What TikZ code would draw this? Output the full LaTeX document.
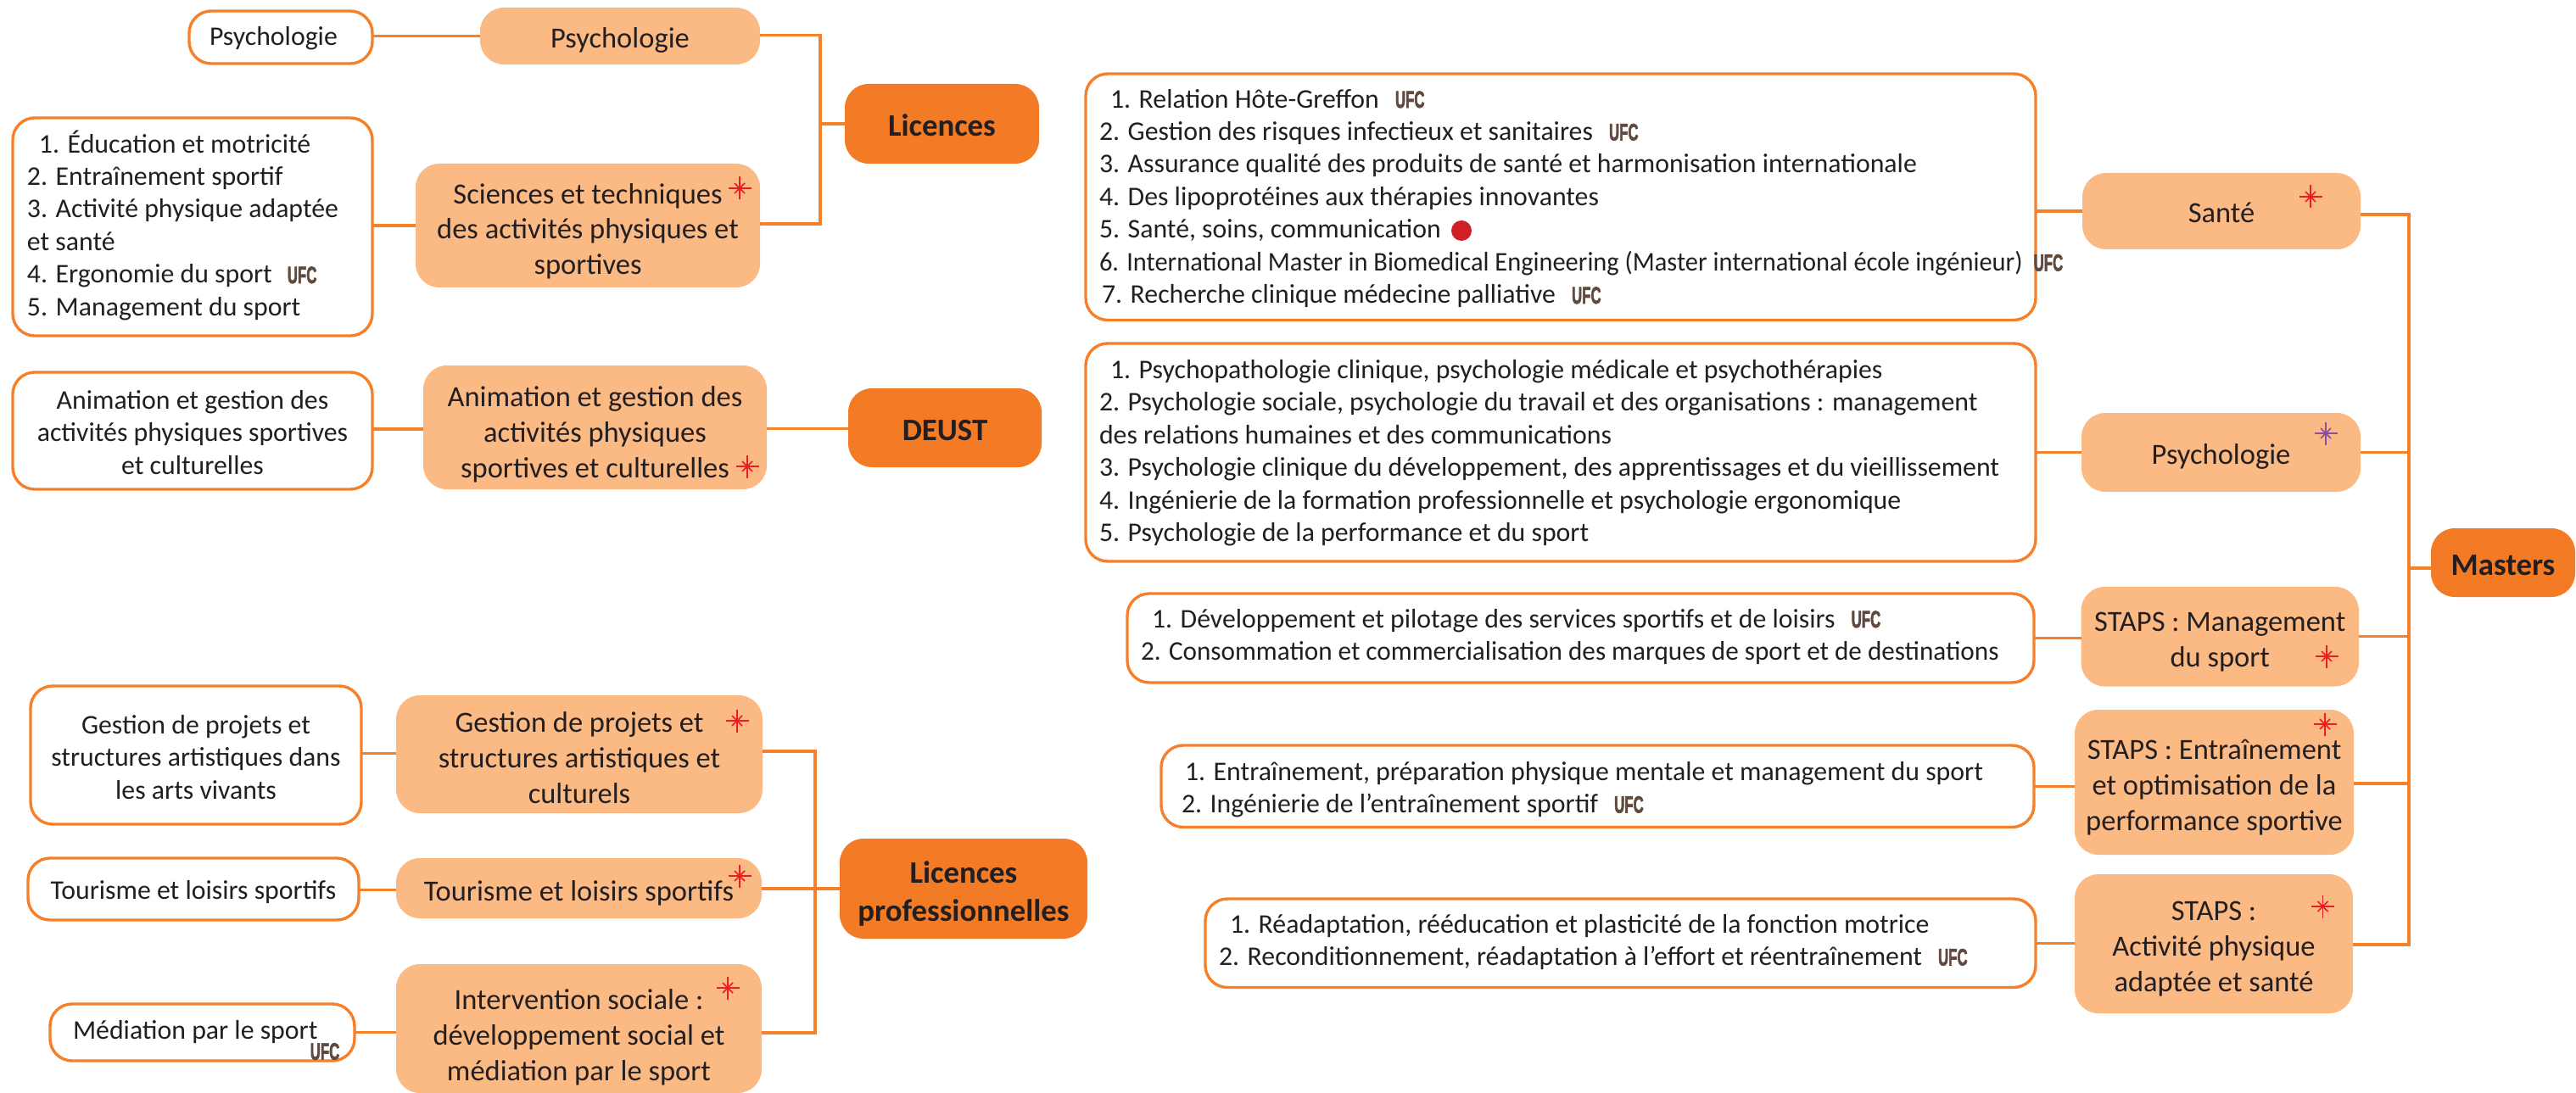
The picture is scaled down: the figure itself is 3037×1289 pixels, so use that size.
\documentclass[tikz,border=0pt]{standalone}
\usepackage{graphicx}
\usepackage{fontspec}
\setmainfont{Carlito}
\newfontfamily\ufcfont{Liberation Sans}[BoldFont={Liberation Sans Bold},BoldFeatures={FakeBold=2.5}]
\definecolor{topor}{HTML}{F47B25}
\definecolor{midor}{HTML}{FBB984}
\definecolor{lineor}{HTML}{F58029}
\definecolor{inkc}{HTML}{231F20}
\definecolor{ufcbrown}{HTML}{5F4A3F}
\definecolor{redstar}{HTML}{ED1C24}
\definecolor{purplestar}{HTML}{8A4FA0}
\definecolor{reddot}{HTML}{CF2027}
\tikzset{
  x=0.5pt,y=-0.5pt,
  boxbase/.style={rectangle,inner sep=0pt,outer sep=0pt,text=inkc},
  leafbox/.style={boxbase,draw=lineor,line width=1.7pt,fill=white,rounded corners=13pt,font=\fontsize{15.9pt}{19.25pt}\selectfont},
  listbox/.style={leafbox},
  midbox/.style={boxbase,fill=midor,rounded corners=14pt,font=\fontsize{17.25pt}{21pt}\selectfont},
  topbox/.style={boxbase,fill=topor,rounded corners=14pt,font=\fontsize{18.4pt}{22.5pt}\selectfont\bfseries},
  link/.style={draw=lineor,line width=1.6pt},
  pics/astk/.style={code={
    \draw[#1,line width=.55pt] (-13.5,0)--(13.5,0) (0,-13.5)--(0,13.5);
    \draw[#1,line width=.75pt] (-6,-6)--(6,6) (-6,6)--(6,-6);
  }},
}
\newcommand\ufcmark{{\ufcfont\bfseries\fontsize{14pt}{14pt}\selectfont\textcolor{ufcbrown}{\scalebox{.6}[1]{UFC}}}}
\newcommand\lstalign[1]{\leftskip=#1pt\rightskip=-100pt plus 1fil\parfillskip=0pt\relax}
\newcommand\bx[9]{%
  \pgfmathsetmacro\bxW{(#5-#3)*0.5}%
  \pgfmathsetmacro\bxH{(#6-#4)*0.5}%
  \pgfmathsetmacro\bxT{(#7-#4)*0.5}%
  \node[#2] (#1) at ({(#3+#5)/2},{(#4+#6)/2}) {\begin{minipage}[c][\bxH pt][t]{\bxW pt}\vspace*{\dimexpr\bxT pt-\baselineskip\relax}\prevdepth=0pt #8 #9\end{minipage}};%
}
\begin{document}
\begin{tikzpicture}
\useasboundingbox (0,0) rectangle (3037,1289);
% --- left column, top
\bx{psyleaf}{leafbox}{223}{13}{439}{75}{54}{\lstalign{12}}{Psychologie}
\bx{psymid}{midbox}{566}{9}{896}{76}{57}{\centering}{Psychologie}
\bx{staleaf}{listbox}{15}{139}{439}{396}{180}{\lstalign{8.5}}{\hspace*{7pt}1. Éducation et motricité\\2. Entraînement sportif\\3. Activité physique adaptée\\et santé\\4. Ergonomie du sport\hspace{9pt}\ufcmark\\5. Management du sport}
\bx{stamid}{midbox}{490}{193}{896}{339}{240}{\centering}{Sciences et techniques\\des activités physiques et\\sportives}
\bx{licences}{topbox}{996}{99}{1225}{193}{161}{\centering}{Licences}
\bx{animleaf}{leafbox}{15}{439}{439}{577}{482}{\centering}{Animation et gestion des\\activités physiques sportives\\et culturelles}
\bx{animmid}{midbox}{499}{431}{904}{577}{479}{\centering}{Animation et gestion des\\activités physiques\\sportives et culturelles}
\bx{deust}{topbox}{1000}{458}{1228}{551}{519}{\centering}{DEUST}
% --- left column, bottom
\bx{gestleaf}{leafbox}{36}{809}{426}{972}{865}{\centering}{Gestion de projets et\\structures artistiques dans\\les arts vivants}
\bx{gestmid}{midbox}{467}{820}{899}{959}{863}{\centering}{Gestion de projets et\\structures artistiques et\\culturels}
\bx{tourleaf}{leafbox}{33}{1012}{423}{1085}{1060}{\centering}{Tourisme et loisirs sportifs}
\bx{tourmid}{midbox}{467}{1012}{898}{1083}{1062}{\centering}{Tourisme et loisirs sportifs}
\bx{medleaf}{leafbox}{59}{1184}{418}{1251}{1225}{\lstalign{13.5}}{Médiation par le sport}
\bx{intermid}{midbox}{467}{1137}{898}{1289}{1190}{\centering}{Intervention sociale :\\développement social et\\médiation par le sport}
\bx{licpro}{topbox}{990}{989}{1282}{1107}{1041}{\centering}{Licences\\professionnelles}
\node[inner sep=0pt] (medufc) at (383,1240) {\ufcmark};
% --- right column lists
\bx{santelist}{listbox}{1280}{87}{2400}{377.5}{127}{\lstalign{8}}{\hspace*{6.5pt}1. Relation Hôte-Greffon\hspace{9.5pt}\ufcmark\\2. Gestion des risques infectieux et sanitaires\hspace{9.5pt}\ufcmark\\3. Assurance qualité des produits de santé et harmonisation internationale\\4. Des lipoprotéines aux thérapies innovantes\\5. Santé, soins, communication\\\scalebox{.957}[1]{6. International Master in Biomedical Engineering (Master international école ingénieur)}\hspace{6.5pt}\ufcmark\\\hspace*{1.5pt}7. Recherche clinique médecine palliative\hspace{9.5pt}\ufcmark}
\bx{psylist}{listbox}{1280}{405}{2400}{662}{446}{\lstalign{8}}{\hspace*{6.5pt}1. Psychopathologie clinique, psychologie médicale et psychothérapies\\2. Psychologie sociale, psychologie du travail et des organisations : management\\des relations humaines et des communications\\3. Psychologie clinique du développement, des apprentissages et du vieillissement\\4. Ingénierie de la formation professionnelle et psychologie ergonomique\\5. Psychologie de la performance et du sport}
\bx{mgtlist}{listbox}{1329}{700}{2398}{805}{740}{\lstalign{8}}{\hspace*{6.5pt}1. Développement et pilotage des services sportifs et de loisirs\hspace{9.5pt}\ufcmark\\\scalebox{.98}[1]{2. Consommation et commercialisation des marques de sport et de destinations}}
\bx{entlist}{listbox}{1369}{879}{2398}{975.5}{920}{\lstalign{12}}{\hspace*{2pt}1. Entraînement, préparation physique mentale et management du sport\\2. Ingénierie de l’entraînement sportif\hspace{9.5pt}\ufcmark}
\bx{apalist}{listbox}{1421}{1060}{2400}{1164.5}{1100}{\lstalign{8}}{\hspace*{6.5pt}1. Réadaptation, rééducation et plasticité de la fonction motrice\\2. Reconditionnement, réadaptation à l’effort et réentraînement\hspace{9.5pt}\ufcmark}
% --- right column mids
\bx{santemid}{midbox}{2455}{204}{2783}{294}{263}{\centering}{Santé}
\bx{psymmid}{midbox}{2454}{487}{2783}{580}{547}{\centering}{Psychologie}
\bx{mgtmid}{midbox}{2453.5}{692}{2781}{809.5}{744}{\centering}{STAPS : Management\\du sport}
\bx{entmid}{midbox}{2446}{837}{2775}{1008}{895}{\centering}{STAPS : Entraînement\\et optimisation de la\\performance sportive}
\bx{apamid}{midbox}{2446}{1031}{2774}{1195}{1085}{\centering}{STAPS :\\Activité physique\\adaptée et santé}
\bx{masters}{topbox}{2866}{623}{3036}{704}{678}{\centering}{Masters}
% --- junctions
\coordinate (ltrunk) at (967,146);
\coordinate (ptrunk) at (961,1048);
\coordinate (mtrunk) at (2840,670);
% --- connectors
\draw[link] (psymid.west) -- (psyleaf.east |- psymid.west);
\draw[link] (stamid.west) -- (staleaf.east |- stamid.west);
\draw[link] ([yshift=1pt]animleaf.east) -- ([yshift=1pt]animleaf.east -| animmid.west);
\draw[link] ([yshift=0.5pt]psymid.east) -| (ltrunk);
\draw[link] ([yshift=1pt]stamid.east) -| (ltrunk);
\draw[link] (licences.west) -- (ltrunk);
\draw[link] ([yshift=-0.75pt]animmid.east) -- ([yshift=-0.75pt]animmid.east -| deust.west);
\draw[link] ([yshift=0.5pt]gestleaf.east |- gestmid.east) -- ([yshift=0.5pt]gestmid.west);
\draw[link] ([yshift=-1pt]tourleaf.east |- tourmid.east) -- ([yshift=-1pt]tourmid.west);
\draw[link] (medleaf.east) -- (intermid.west |- medleaf.east);
\draw[link] ([yshift=1.75pt]gestmid.east) -| (ptrunk);
\draw[link] ([yshift=-2.5pt]intermid.east) -| (ptrunk);
\draw[link] (tourmid.east |- licpro.west) -- (licpro.west);
\draw[link] (santemid.west) -- (santelist.east |- santemid.west);
\draw[link] (psymmid.west) -- (psylist.east |- psymmid.west);
\draw[link] (mgtlist.east) -- (mgtmid.west |- mgtlist.east);
\draw[link] (entlist.east) -- (entmid.west |- entlist.east);
\draw[link] (apalist.east) -- (apamid.west |- apalist.east);
\draw[link] ([yshift=-2pt]santemid.east) -| (mtrunk);
\draw[link] (psymmid.east) -- (psymmid.east -| mtrunk);
\draw[link] (mgtmid.east) -- (mgtmid.east -| mtrunk);
\draw[link] ([yshift=-0.75pt]entmid.east) -- ([yshift=-0.75pt]entmid.east -| mtrunk);
\draw[link] ([yshift=-0.5pt]apamid.east) -| (mtrunk);
\draw[link] ([yshift=-3.25pt]masters.west) -- (mtrunk);
% --- marks
\node[circle,fill=reddot,minimum size=12pt,inner sep=0pt] (dot) at (1723,272) {};
\pic at (872,222) {astk=redstar};
\pic at (881,550) {astk=redstar};
\pic at (869,850) {astk=redstar};
\pic at (872,1033) {astk=redstar};
\pic at (858,1165) {astk=redstar};
\pic at (2724,232) {astk=redstar};
\pic at (2742,511) {astk=purplestar};
\pic at (2743,774) {astk=redstar};
\pic at (2741,854) {astk=redstar};
\pic at (2738.5,1069) {astk=redstar};
\end{tikzpicture}
\end{document}
